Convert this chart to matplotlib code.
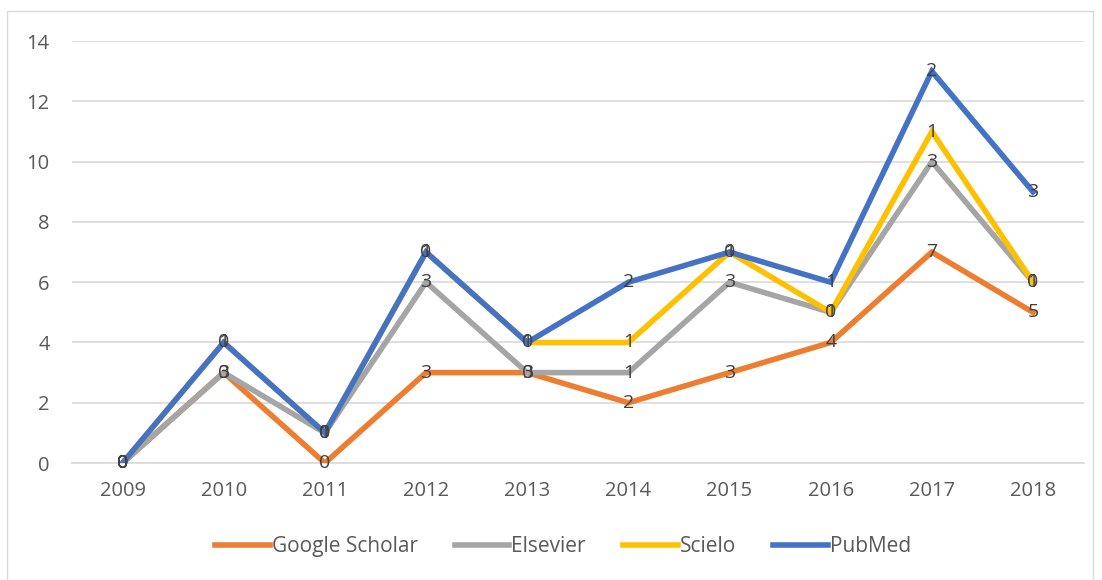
import numpy as np
import matplotlib
matplotlib.use('Agg')
import matplotlib.pyplot as plt

plt.rcParams['font.family'] = ['Open Sans', 'DejaVu Sans']

years = ['2009', '2010', '2011', '2012', '2013', '2014', '2015', '2016', '2017', '2018']
series_names = ['Google Scholar', 'Elsevier', 'Scielo', 'PubMed']
google_scholar = [0, 3, 0, 3, 3, 2, 3, 4, 7, 5]
elsevier = [0, 0, 1, 3, 0, 1, 3, 1, 3, 1]
scielo = [0, 1, 0, 1, 1, 1, 1, 0, 1, 0]
pubmed = [0, 0, 0, 0, 0, 2, 0, 1, 2, 3]
colors = ['#ED7D31', '#A5A5A5', '#FFC000', '#4472C4']

fig = plt.figure(figsize=(11.02, 5.8), dpi=100)
ax = fig.add_axes([0.0653, 0.2017, 0.918, 0.7273])

# stacked lines, labels show each series' own value
x = np.arange(len(years))
cum = np.zeros(len(years))
for name, vals, c in zip(series_names, [google_scholar, elsevier, scielo, pubmed], colors):
    cum = cum + np.array(vals)
    ax.plot(x, cum, color=c, lw=4, label=name, solid_joinstyle='miter', zorder=3)
    for xi, yi, v in zip(x, cum, vals):
        ax.text(xi, yi, str(v), ha='center', va='center', fontsize=14, color='#404040', zorder=5)

ax.set_xlim(-0.5, len(years) - 0.5)
ax.set_ylim(0, 14)
ax.set_yticks(range(0, 15, 2))
ax.set_xticks(x)
ax.set_xticklabels(years)
ax.tick_params(axis='both', length=0, labelsize=14.5, labelcolor='#595959')
ax.tick_params(axis='y', pad=16)
ax.tick_params(axis='x', pad=13)
ax.grid(axis='y', color='#D9D9D9', lw=1.2)
ax.set_axisbelow(True)
for s in ['top', 'right', 'left']:
    ax.spines[s].set_visible(False)
ax.spines['bottom'].set_color('#D9D9D9')
ax.spines['bottom'].set_linewidth(1.2)

fig.legend(loc='center', bbox_to_anchor=(0.511, 0.057), ncol=4, frameon=False,
           fontsize=15, labelcolor='#595959', handlelength=2.6, handletextpad=0.1,
           columnspacing=1.8)

fig.patches.append(plt.Rectangle((7 / 1102, -0.01), 1086 / 1102, 1 - 11 / 580 + 0.01,
                                 transform=fig.transFigure, fill=False,
                                 edgecolor='#D9D9D9', lw=1))

fig.savefig('out.png', dpi=100)
